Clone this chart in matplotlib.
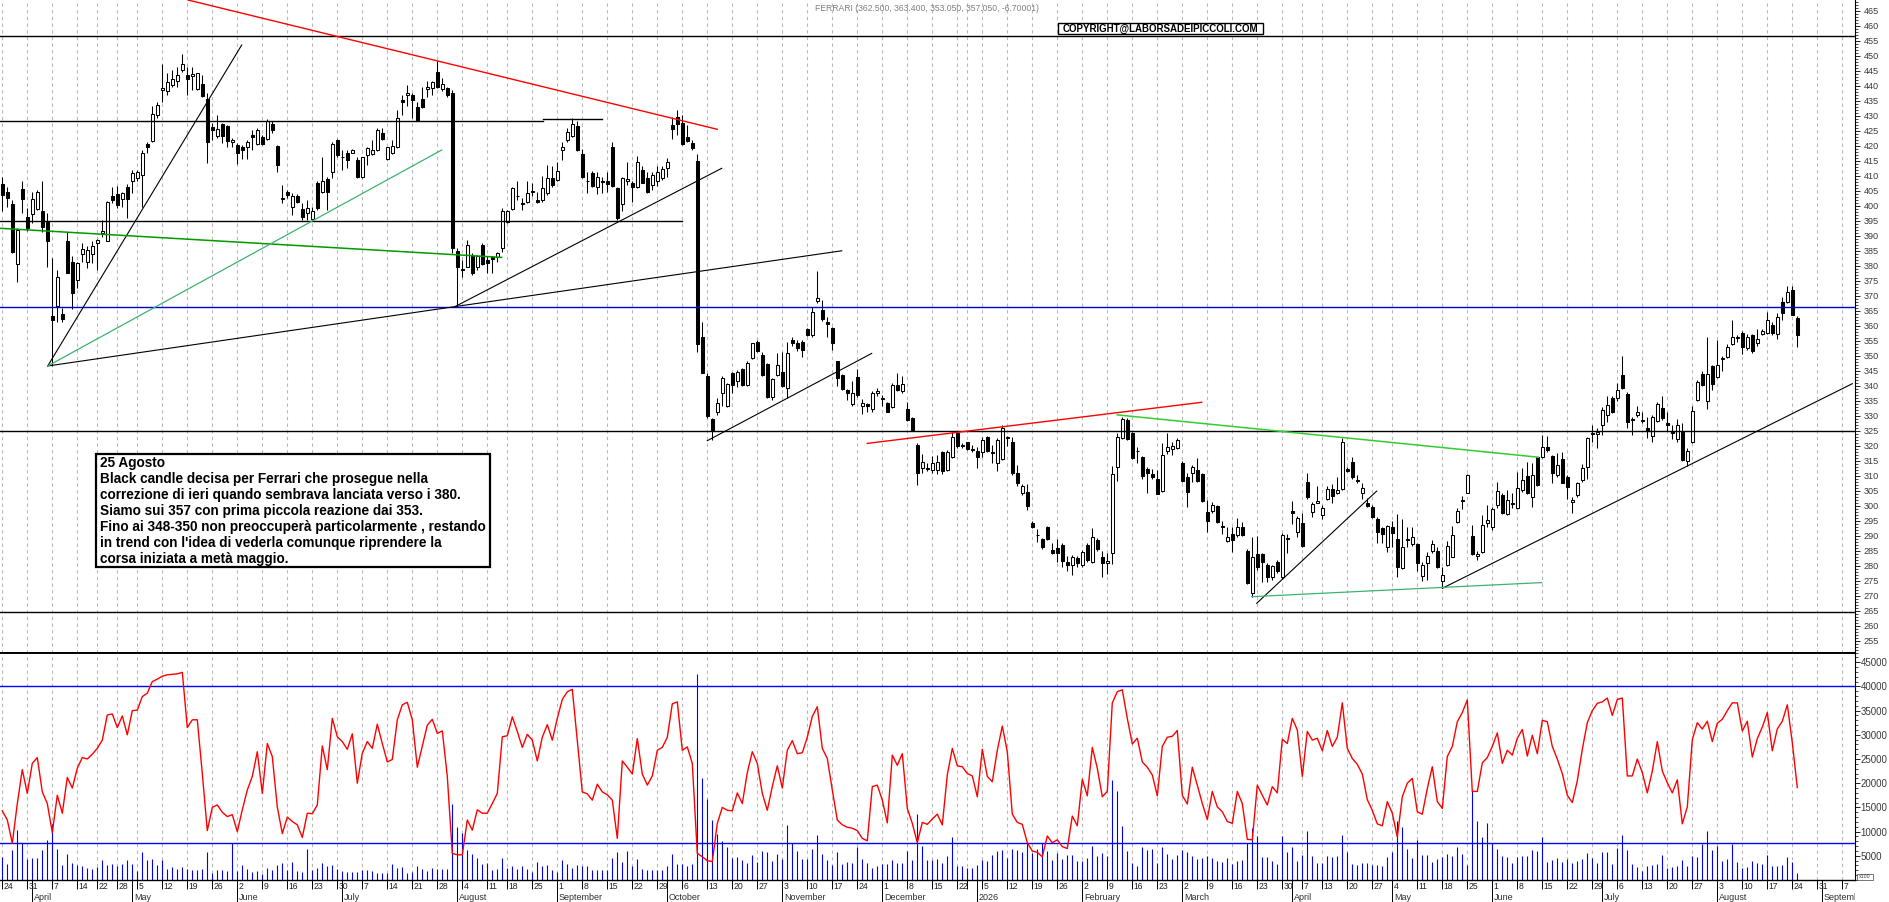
import numpy as np
import pandas as pd
import matplotlib
matplotlib.use("Agg")
import matplotlib.pyplot as plt
from matplotlib.patches import Rectangle
from matplotlib.ticker import MultipleLocator, FixedLocator, FuncFormatter

plt.rcParams['font.family'] = ['Liberation Sans', 'DejaVu Sans']

# ---- daily candles (Borsa Italiana trading days from 24 Mar 2025) ----
opens = [
    407.3, 404.6, 400.6, 380.6, 405.6, 396.2, 397.3, 398.9, 398.2, 394.7,
    363.3, 366.7, 364.0, 388.1, 381.1, 375.3, 383.9, 381.4, 383.9, 387.5,
    390.9, 388.4, 403.3, 404.0, 402.2, 406.4, 408.1, 409.2, 410.3, 420.5,
    421.7, 430.3, 438.6, 438.1, 440.3, 441.6, 445.2, 443.6, 443.3, 438.9,
    440.6, 435.5, 426.1, 423.1, 427.1, 426.6, 421.4, 420.3, 419.7, 419.5,
    423.5, 420.6, 422.9, 422.4, 427.3, 420.0, 402.4, 404.7, 399.7, 403.3,
    398.9, 397.5, 395.6, 407.7, 404.7, 408.9, 411.4, 422.0, 416.4, 417.7,
    417.7, 415.3, 409.7, 417.0, 417.3, 418.6, 424.2, 415.6, 417.7, 419.5,
    435.3, 437.0, 437.0, 432.9, 435.5, 438.9, 439.2, 444.5, 438.9, 439.2,
    437.5, 385.0, 378.9, 379.7, 383.4, 379.7, 387.0, 382.0, 382.8, 382.9,
    385.9, 394.7, 399.0, 403.3, 400.8, 401.1, 404.7, 402.0, 402.0, 404.4,
    409.2, 408.6, 418.6, 422.0, 423.1, 426.6, 417.3, 408.3, 410.9, 406.2,
    408.1, 408.3, 419.5, 405.9, 400.6, 408.1, 407.5, 406.4, 412.0, 409.2,
    407.0, 408.1, 409.2, 412.7, 427.0, 429.5, 427.5, 422.9, 420.9, 415.0,
    356.2, 343.3, 328.9, 331.4, 337.5, 333.1, 344.4, 341.7, 345.5, 340.3,
    349.2, 354.7, 350.3, 347.2, 336.2, 343.6, 344.7, 339.2, 355.1, 354.4,
    354.7, 358.9, 357.0, 368.4, 365.3, 361.4, 359.2, 348.1, 343.6, 338.6,
    334.0, 342.9, 333.3, 333.9, 332.2, 337.5, 335.9, 334.2, 332.9, 340.3,
    338.1, 332.2, 329.2, 320.2, 312.5, 312.6, 311.9, 311.9, 318.0, 311.9,
    316.1, 324.1, 320.0, 321.1, 318.7, 318.4, 318.0, 323.0, 317.7, 314.1,
    315.5, 322.5, 321.3, 310.8, 304.1, 304.7, 294.1, 290.3, 288.8, 293.0,
    285.2, 285.8, 286.9, 281.4, 280.2, 282.5, 280.2, 286.9, 281.3, 288.6,
    283.0, 280.8, 284.4, 312.8, 322.5, 328.6, 324.1, 318.3, 316.3, 312.1,
    310.6, 308.8, 305.0, 318.3, 318.8, 319.1, 314.1, 309.5, 311.0, 311.9,
    310.6, 298.0, 298.3, 299.9, 293.0, 288.4, 290.6, 290.3, 293.0, 285.0,
    270.8, 283.9, 283.9, 280.2, 276.4, 281.4, 276.4, 289.1, 298.3, 291.4,
    294.3, 308.0, 298.0, 301.0, 296.9, 302.1, 305.5, 304.1, 305.5, 312.1,
    314.7, 308.6, 304.4, 301.0, 299.7, 295.5, 292.5, 286.4, 293.0, 288.8,
    279.1, 288.7, 287.2, 287.2, 276.6, 281.0, 285.0, 285.0, 275.0, 280.2,
    283.0, 294.7, 301.9, 304.3, 289.9, 283.2, 284.7, 294.3, 293.0, 300.2,
    303.6, 297.2, 300.9, 299.1, 305.2, 309.9, 302.8, 316.1, 316.1, 319.5,
    316.6, 310.2, 315.5, 309.7, 301.4, 303.6, 308.6, 313.0, 324.1, 323.9,
    326.9, 330.2, 335.9, 335.9, 343.6, 337.2, 328.7, 330.4, 328.4, 326.0,
    323.1, 328.2, 332.7, 327.6, 325.0, 322.2, 325.0, 314.8, 321.2, 335.3,
    344.0, 335.0, 346.5, 343.0, 348.8, 349.6, 353.9, 356.1, 357.7, 352.6,
    356.8, 354.2, 357.1, 357.7, 360.3, 357.1, 368.0, 368.0, 371.9, 362.5,
]
highs = [
    409.7, 406.4, 402.0, 392.5, 408.1, 399.2, 404.7, 405.1, 408.1, 397.7,
    382.5, 378.6, 365.9, 391.1, 383.1, 381.4, 387.5, 386.6, 388.1, 388.9,
    395.3, 401.7, 406.4, 406.6, 404.7, 407.3, 412.0, 412.0, 418.6, 421.4,
    433.1, 434.7, 447.2, 444.2, 445.3, 446.4, 450.5, 446.4, 446.4, 444.4,
    443.6, 437.5, 427.5, 430.3, 427.5, 427.0, 422.5, 420.9, 420.3, 422.0,
    425.3, 425.9, 423.6, 428.9, 428.1, 420.3, 407.0, 405.3, 404.2, 404.0,
    400.9, 402.0, 399.7, 408.1, 416.4, 409.5, 421.4, 422.2, 418.6, 418.6,
    418.9, 416.4, 416.4, 419.7, 422.0, 425.9, 425.9, 419.7, 422.0, 432.0,
    437.0, 440.3, 437.5, 434.7, 439.7, 441.7, 441.7, 448.4, 442.5, 439.7,
    438.6, 385.9, 381.9, 388.6, 384.2, 383.6, 387.5, 383.1, 383.1, 384.7,
    399.2, 398.6, 406.2, 408.1, 402.5, 408.4, 407.5, 404.7, 410.0, 413.6,
    413.3, 414.7, 421.4, 425.9, 429.2, 428.1, 418.9, 411.4, 411.7, 411.4,
    409.5, 411.4, 421.1, 406.4, 409.7, 414.7, 408.1, 416.6, 413.1, 411.1,
    411.4, 413.1, 413.1, 415.9, 429.7, 432.0, 430.3, 427.0, 422.0, 417.3,
    361.4, 344.2, 329.2, 335.9, 343.1, 340.9, 344.7, 345.1, 345.9, 348.1,
    354.4, 355.1, 351.4, 347.5, 342.5, 350.8, 351.1, 354.7, 356.4, 355.1,
    355.3, 359.2, 366.2, 378.1, 368.6, 362.9, 359.7, 348.4, 343.9, 338.9,
    341.7, 345.5, 335.5, 334.4, 338.1, 339.2, 337.0, 334.7, 340.9, 344.4,
    343.1, 334.7, 329.7, 320.8, 317.2, 314.3, 316.6, 316.9, 318.4, 318.6,
    324.7, 324.7, 320.8, 321.3, 320.2, 319.7, 322.8, 323.2, 320.2, 322.5,
    326.9, 323.2, 323.0, 313.6, 307.2, 307.2, 295.0, 292.1, 289.1, 293.2,
    287.5, 288.8, 287.5, 283.2, 283.6, 283.2, 285.2, 287.5, 292.5, 289.1,
    285.0, 284.1, 313.2, 324.3, 329.5, 329.1, 324.7, 319.7, 316.6, 312.8,
    312.1, 311.9, 321.0, 324.1, 321.3, 322.5, 315.0, 310.8, 313.6, 315.8,
    310.8, 301.9, 301.3, 300.2, 295.0, 293.0, 293.0, 295.8, 294.7, 285.5,
    289.7, 289.9, 284.3, 281.0, 280.2, 281.9, 290.8, 290.6, 301.7, 296.6,
    297.7, 310.8, 301.3, 306.6, 300.2, 306.6, 307.2, 309.7, 322.5, 312.8,
    316.4, 310.2, 307.5, 302.5, 300.2, 296.3, 293.0, 293.6, 295.0, 297.2,
    295.5, 292.8, 293.0, 287.5, 281.4, 284.7, 288.6, 286.3, 279.7, 288.3,
    293.2, 299.1, 303.2, 310.6, 293.6, 285.0, 296.9, 300.2, 299.7, 308.0,
    304.1, 305.2, 304.1, 311.4, 312.5, 314.7, 314.3, 316.3, 323.6, 323.2,
    316.9, 317.7, 318.0, 310.2, 302.8, 308.0, 313.9, 322.8, 326.9, 325.8,
    333.0, 336.6, 336.5, 341.0, 350.0, 337.8, 329.5, 333.3, 331.2, 329.5,
    330.1, 334.6, 336.5, 331.4, 326.9, 328.9, 327.6, 319.2, 333.3, 341.9,
    344.9, 356.4, 347.0, 355.1, 350.0, 353.9, 361.9, 356.8, 358.1, 357.1,
    357.3, 359.0, 359.0, 364.5, 361.2, 364.1, 369.5, 373.3, 373.3, 363.4,
]
lows = [
    398.1, 399.7, 384.2, 374.5, 397.7, 391.7, 394.4, 398.6, 391.1, 379.5,
    346.6, 361.1, 361.4, 377.5, 365.5, 372.5, 381.1, 379.1, 380.9, 378.6,
    389.7, 388.1, 400.9, 399.2, 399.7, 395.9, 404.2, 408.1, 399.7, 417.5,
    421.4, 429.2, 434.7, 437.0, 439.7, 439.7, 444.7, 437.0, 438.6, 438.6,
    436.2, 414.2, 422.0, 422.5, 420.9, 419.5, 419.7, 414.0, 415.6, 415.6,
    418.6, 420.3, 420.3, 422.0, 424.2, 411.4, 400.9, 402.5, 397.0, 400.9,
    395.3, 395.3, 395.3, 398.6, 404.2, 398.6, 409.2, 416.4, 412.0, 412.5,
    417.5, 409.2, 409.2, 413.6, 417.0, 418.1, 422.0, 415.3, 417.3, 419.2,
    430.3, 433.1, 429.2, 428.6, 432.5, 436.4, 437.0, 439.4, 438.1, 436.4,
    384.2, 366.4, 376.2, 379.5, 377.0, 378.6, 380.3, 377.5, 377.5, 381.1,
    384.7, 394.4, 398.6, 402.0, 398.6, 400.9, 403.1, 400.9, 401.4, 403.6,
    406.4, 408.1, 415.1, 421.4, 422.9, 418.4, 409.2, 404.2, 406.4, 403.9,
    404.4, 404.7, 406.4, 395.1, 398.1, 407.0, 401.4, 405.9, 407.5, 404.4,
    405.1, 406.6, 408.6, 409.7, 422.2, 423.6, 420.3, 421.4, 418.6, 351.4,
    344.2, 329.2, 322.0, 330.3, 333.1, 332.9, 337.7, 339.5, 340.0, 340.0,
    348.9, 351.4, 343.3, 335.9, 335.3, 343.1, 339.5, 335.9, 353.3, 351.7,
    349.7, 356.6, 356.4, 367.5, 361.7, 356.2, 352.0, 340.0, 338.6, 335.3,
    333.3, 336.4, 330.6, 331.1, 331.4, 336.6, 333.3, 331.1, 332.5, 338.1,
    337.5, 328.4, 325.1, 306.9, 310.8, 311.7, 311.0, 310.6, 310.6, 311.7,
    315.8, 319.1, 319.1, 318.6, 318.0, 312.5, 316.1, 318.0, 314.3, 311.7,
    315.2, 319.9, 310.2, 306.6, 303.6, 298.6, 292.5, 288.0, 285.5, 288.6,
    283.9, 281.4, 279.5, 278.4, 276.9, 279.5, 279.7, 281.3, 280.8, 285.0,
    276.4, 277.2, 280.6, 308.4, 322.1, 321.9, 315.5, 314.3, 308.8, 304.4,
    308.8, 303.9, 304.7, 317.2, 316.9, 318.8, 308.0, 299.7, 308.0, 308.0,
    301.3, 291.4, 297.5, 294.3, 290.6, 288.0, 284.7, 289.7, 289.9, 273.9,
    269.7, 278.6, 274.7, 274.7, 275.2, 277.7, 275.5, 284.1, 293.9, 289.7,
    286.4, 302.1, 296.1, 301.0, 295.5, 301.9, 300.8, 303.9, 305.2, 311.4,
    308.8, 307.5, 302.1, 299.7, 295.8, 287.7, 287.5, 284.7, 286.3, 276.3,
    278.8, 286.3, 286.6, 278.1, 275.0, 275.2, 284.1, 279.1, 272.5, 279.9,
    282.8, 294.1, 298.8, 304.1, 283.6, 281.9, 284.3, 293.0, 291.9, 299.1,
    297.2, 296.9, 299.1, 298.8, 304.7, 303.9, 299.7, 306.6, 315.8, 318.0,
    307.5, 309.7, 307.5, 302.1, 297.7, 303.0, 308.0, 308.8, 321.4, 319.1,
    323.6, 328.0, 330.8, 335.0, 338.9, 326.0, 323.7, 329.5, 327.6, 322.7,
    321.2, 327.8, 328.6, 325.0, 322.2, 321.4, 315.0, 313.2, 320.9, 335.0,
    339.8, 332.1, 338.5, 342.7, 344.9, 349.4, 353.5, 354.5, 350.6, 351.9,
    350.9, 353.2, 356.8, 357.3, 356.8, 355.5, 361.9, 367.7, 363.6, 353.05,
]
closes = [
    403.6, 402.7, 384.7, 392.0, 402.2, 392.7, 402.2, 404.7, 392.8, 388.1,
    362.0, 376.2, 362.4, 377.7, 370.9, 380.9, 385.5, 385.1, 386.6, 388.5,
    391.7, 401.2, 402.0, 400.3, 404.4, 402.2, 410.9, 411.1, 417.5, 419.5,
    430.6, 433.5, 439.1, 441.4, 442.4, 443.6, 447.2, 442.3, 444.0, 444.2,
    436.7, 421.1, 425.3, 425.5, 423.1, 421.7, 422.0, 417.7, 418.6, 421.4,
    423.0, 425.3, 420.6, 428.1, 425.1, 413.6, 402.2, 403.6, 403.1, 401.4,
    396.2, 399.2, 398.1, 399.2, 408.1, 404.7, 420.5, 417.0, 416.1, 415.1,
    418.6, 409.5, 416.2, 419.4, 418.6, 425.3, 422.2, 419.7, 420.0, 429.1,
    434.7, 437.5, 435.1, 428.6, 432.9, 439.7, 441.4, 439.7, 440.5, 437.0,
    385.9, 379.7, 378.7, 387.0, 377.5, 383.1, 380.6, 380.9, 382.2, 384.2,
    398.1, 398.3, 405.9, 403.1, 400.6, 404.4, 404.5, 401.1, 405.9, 409.2,
    407.0, 411.7, 419.7, 424.7, 427.3, 418.6, 409.5, 408.1, 406.6, 409.5,
    407.9, 407.3, 406.7, 395.9, 409.4, 408.9, 406.4, 414.7, 407.7, 404.7,
    410.3, 411.4, 412.2, 414.7, 425.5, 427.3, 420.6, 421.7, 419.2, 354.0,
    344.4, 330.0, 325.3, 334.4, 342.5, 340.6, 340.3, 344.7, 340.3, 347.7,
    354.2, 351.7, 343.6, 336.2, 342.2, 346.9, 340.0, 350.9, 354.2, 352.5,
    352.0, 357.0, 364.5, 369.2, 362.2, 360.6, 354.4, 342.5, 338.9, 337.7,
    337.7, 337.0, 334.2, 333.1, 337.7, 338.1, 335.7, 331.4, 340.3, 338.6,
    340.6, 328.6, 325.3, 310.8, 314.7, 312.4, 314.3, 314.7, 311.7, 318.0,
    323.0, 319.9, 319.8, 318.9, 318.5, 316.4, 321.9, 318.4, 318.0, 321.9,
    325.8, 323.0, 311.0, 307.7, 306.6, 299.9, 292.8, 290.1, 286.4, 288.8,
    284.1, 284.3, 281.7, 280.2, 283.0, 280.8, 284.7, 281.9, 289.5, 285.5,
    281.0, 281.6, 310.5, 323.0, 328.8, 322.1, 315.8, 318.1, 309.9, 311.0,
    309.5, 303.9, 316.9, 319.7, 319.9, 321.9, 308.3, 304.7, 313.0, 308.3,
    301.7, 295.0, 300.2, 294.7, 292.8, 289.7, 288.6, 293.0, 290.3, 274.4,
    283.0, 279.7, 281.4, 276.4, 279.9, 278.4, 290.2, 288.9, 297.7, 295.8,
    286.6, 302.8, 300.6, 301.7, 299.1, 305.5, 303.3, 305.2, 321.2, 311.7,
    309.5, 308.4, 305.8, 299.9, 296.1, 291.4, 290.6, 293.2, 291.0, 279.5,
    286.1, 288.5, 289.7, 281.0, 280.2, 283.2, 287.2, 279.5, 276.9, 286.6,
    290.2, 298.3, 301.7, 310.2, 283.9, 283.9, 293.6, 295.2, 298.8, 305.0,
    297.5, 301.9, 300.7, 305.8, 308.6, 304.1, 310.2, 306.9, 319.5, 318.6,
    310.8, 313.6, 307.7, 306.1, 301.9, 307.7, 312.5, 322.5, 323.9, 324.7,
    331.9, 333.6, 331.2, 338.7, 339.4, 327.8, 328.5, 331.2, 328.2, 324.8,
    329.5, 334.0, 329.1, 326.9, 324.4, 326.9, 315.4, 318.3, 331.7, 341.4,
    340.1, 344.0, 340.6, 346.8, 349.0, 353.0, 356.2, 355.9, 353.0, 356.2,
    351.7, 355.5, 358.3, 361.9, 357.7, 362.8, 364.3, 371.4, 363.75, 357.05,
]

# ---- lower panel: red indicator line and volume bars (thousands, axis is x100) ----
red_line = [
    14.3, 12.4, 7.6, 15.8, 22.8, 17.9, 24.1, 25.3, 18.2, 15.8,
    9.8, 17.5, 13.8, 21.2, 19.0, 23.1, 25.3, 25.0, 26.0, 27.2,
    28.9, 34.1, 34.3, 31.5, 33.9, 30.0, 35.0, 35.1, 37.9, 38.6,
    41.0, 41.5, 42.1, 42.4, 42.5, 42.6, 42.9, 31.5, 33.1, 33.1,
    22.0, 10.2, 15.0, 15.5, 14.0, 13.1, 13.5, 10.0, 14.5, 18.6,
    21.4, 26.5, 17.9, 28.2, 25.5, 15.1, 9.6, 13.0, 12.1, 11.4,
    8.8, 13.8, 13.7, 15.5, 27.7, 22.8, 33.4, 29.6, 28.6, 27.0,
    30.2, 20.0, 26.2, 28.6, 27.2, 32.2, 28.2, 24.4, 24.9, 33.1,
    36.2, 36.7, 33.1, 23.3, 27.7, 32.0, 33.2, 30.3, 30.8, 21.4,
    5.5, 5.2, 5.2, 12.4, 10.3, 14.5, 13.8, 13.8, 15.8, 17.9,
    29.6, 29.8, 33.7, 30.7, 27.4, 30.1, 28.9, 24.6, 29.5, 32.1,
    28.9, 33.4, 37.3, 38.9, 39.4, 28.9, 18.2, 17.8, 16.5, 19.8,
    18.2, 17.6, 16.5, 8.6, 24.6, 23.3, 21.9, 29.2, 21.9, 19.6,
    21.5, 26.8, 27.4, 29.5, 36.4, 36.8, 26.8, 27.5, 24.1, 5.5,
    4.8, 4.0, 3.8, 11.7, 15.0, 14.4, 14.3, 18.0, 15.8, 22.2,
    26.5, 24.1, 17.9, 14.4, 19.3, 23.6, 19.0, 26.8, 28.8, 26.1,
    26.3, 29.5, 33.8, 35.8, 27.2, 25.1, 18.6, 12.4, 11.4, 10.9,
    10.7, 10.2, 8.6, 8.1, 19.3, 19.6, 16.5, 11.8, 25.8, 23.7,
    26.1, 14.8, 11.7, 7.7, 11.9, 11.5, 12.6, 13.6, 11.4, 21.7,
    27.2, 23.6, 23.4, 22.0, 21.5, 17.2, 27.0, 21.4, 20.3, 26.8,
    31.8, 26.5, 13.6, 11.9, 11.5, 7.7, 6.0, 5.7, 4.8, 9.1,
    7.7, 8.3, 6.9, 6.5, 13.2, 11.2, 20.8, 17.4, 27.4, 23.1,
    17.2, 18.3, 36.6, 38.9, 39.3, 33.4, 28.1, 29.3, 24.4, 23.3,
    21.7, 17.4, 27.6, 29.5, 29.7, 30.9, 17.5, 15.7, 23.3, 19.6,
    15.8, 12.5, 18.3, 15.1, 14.1, 12.1, 11.7, 18.3, 15.8, 8.4,
    8.3, 19.6, 17.5, 15.5, 19.3, 18.0, 29.1, 28.2, 33.4, 31.0,
    21.4, 30.7, 28.9, 29.3, 26.7, 30.9, 27.6, 29.5, 36.6, 27.2,
    25.1, 23.9, 21.9, 16.6, 14.4, 11.6, 11.2, 16.2, 13.8, 8.9,
    17.2, 20.0, 21.0, 14.1, 13.6, 18.9, 23.4, 16.2, 14.8, 25.5,
    27.6, 32.7, 34.6, 37.2, 18.3, 18.3, 24.2, 25.3, 27.6, 30.4,
    24.1, 26.8, 25.8, 29.3, 31.1, 25.6, 29.9, 26.1, 33.0, 32.7,
    27.6, 25.0, 22.0, 17.5, 16.0, 20.5, 27.0, 32.5, 35.0, 36.5,
    36.8, 37.6, 34.0, 37.3, 37.6, 21.5, 21.5, 25.0, 22.2, 18.0,
    22.5, 28.6, 22.5, 20.1, 18.0, 20.7, 11.6, 15.1, 29.0, 32.5,
    31.2, 32.8, 28.6, 32.4, 33.2, 35.0, 36.6, 36.6, 30.8, 32.8,
    25.4, 29.2, 31.6, 34.6, 26.7, 31.2, 32.8, 36.2, 28.4, 19.1,
]
volume = [
    4.8, 3.3, 6.2, 10.3, 7.6, 4.3, 4.5, 4.5, 6.2, 8.3,
    11.5, 6.5, 3.0, 5.4, 3.6, 3.0, 2.9, 2.4, 2.2, 2.6,
    4.1, 3.1, 3.3, 2.9, 3.3, 4.1, 3.3, 1.9, 5.8, 4.1,
    4.3, 3.0, 4.1, 2.2, 2.6, 2.2, 2.6, 2.2, 2.1, 2.1,
    2.2, 5.8, 1.4, 2.1, 2.1, 1.9, 7.6, 1.9, 3.0, 2.2,
    1.7, 1.9, 1.2, 2.4, 2.1, 3.1, 3.6, 2.1, 3.7, 1.9,
    1.7, 6.5, 2.1, 2.4, 3.6, 2.8, 3.1, 2.2, 1.9, 1.7,
    1.7, 1.7, 2.1, 2.1, 1.9, 1.5, 1.4, 1.4, 3.3, 2.5,
    2.6, 1.5, 1.7, 2.9, 2.3, 1.9, 2.5, 2.2, 2.3, 2.2,
    15.6, 10.9, 9.8, 6.3, 5.4, 4.5, 3.3, 3.6, 2.1, 2.2,
    4.5, 2.4, 2.9, 2.2, 2.9, 2.2, 1.7, 3.7, 2.8, 3.1,
    2.0, 1.7, 4.2, 3.3, 2.4, 3.1, 2.8, 2.8, 2.0, 2.0,
    2.0, 2.1, 4.5, 5.7, 3.7, 6.0, 2.9, 4.3, 2.2, 2.1,
    2.1, 2.1, 2.1, 2.9, 5.4, 3.3, 3.3, 2.9, 3.3, 42.6,
    21.1, 16.7, 12.4, 9.5, 8.0, 6.8, 4.5, 4.7, 4.2, 3.6,
    5.2, 3.7, 6.0, 5.7, 3.9, 5.4, 4.3, 11.4, 7.6, 6.0,
    4.3, 4.3, 6.5, 9.3, 5.4, 4.2, 3.1, 5.7, 3.3, 3.7,
    3.6, 6.9, 4.3, 3.5, 2.4, 2.9, 3.3, 3.3, 4.2, 3.6,
    3.6, 6.0, 4.2, 13.6, 7.0, 4.2, 4.2, 4.3, 3.6, 5.0,
    8.8, 2.9, 2.9, 2.4, 2.4, 3.1, 4.2, 3.9, 5.2, 6.0,
    6.2, 4.6, 6.5, 6.2, 5.7, 7.6, 5.6, 6.5, 7.6, 6.0,
    4.2, 5.6, 4.3, 5.2, 5.2, 3.9, 3.9, 4.5, 7.0, 5.0,
    5.6, 5.0, 20.7, 18.3, 11.2, 6.0, 3.6, 2.9, 6.8, 6.2,
    6.4, 3.6, 6.8, 5.4, 4.3, 5.2, 6.2, 5.8, 5.0, 4.3,
    4.5, 5.0, 4.5, 3.9, 3.7, 4.5, 3.3, 3.9, 4.2, 7.7,
    10.7, 9.0, 4.7, 4.7, 3.9, 3.3, 9.0, 5.8, 6.9, 3.9,
    5.2, 10.1, 5.0, 3.6, 3.6, 5.0, 4.8, 5.0, 9.3, 5.8,
    3.3, 3.1, 3.6, 3.6, 3.1, 3.1, 2.8, 4.7, 5.8, 12.2,
    11.0, 6.5, 4.5, 8.3, 5.2, 5.2, 3.8, 4.3, 4.7, 5.4,
    5.0, 6.9, 5.4, 3.1, 18.3, 12.2, 8.8, 11.7, 7.7, 6.5,
    5.0, 4.7, 3.6, 4.7, 5.0, 5.0, 6.2, 6.0, 8.8, 3.7,
    4.2, 4.6, 3.8, 4.4, 3.5, 4.0, 4.3, 5.6, 4.5, 3.6,
    5.8, 5.8, 3.4, 6.6, 9.3, 6.2, 3.4, 2.6, 1.8, 2.9,
    3.0, 3.4, 5.2, 2.4, 2.6, 2.9, 4.2, 2.9, 5.0, 4.7,
    7.4, 10.2, 6.1, 7.0, 4.0, 4.4, 7.4, 3.8, 2.4, 2.6,
    4.0, 3.6, 3.4, 5.2, 2.9, 2.9, 3.0, 4.7, 3.8, 1.4,
]

# horizontal levels and trendlines drawn on the price panel (day index, price)
flat_levels = [456.6, 325.0, 264.5]
blue_level = 366.2
short_levels = [(-0.5, 108.1, 428.4), (108.1, 119.9, 428.9), (-0.5, 135.9, 394.9)]
black_trends = [
    (9.08, 346.6, 47.88, 453.6),
    (9.08, 346.6, 90.54, 366.4),
    (90.54, 366.4, 167.88, 385.0),
    (90.54, 366.4, 143.88, 412.5),
    (141.0, 321.7, 173.88, 350.8),
    (250.88, 267.5, 274.88, 304.9),
    (288.0, 272.5, 370.0, 340.7),
]
red_trends = [(37.14, 468.6, 143.0, 425.5), (173.0, 320.8, 239.88, 334.5)]
dark_green_trends = [(-0.46, 392.5, 99.88, 382.8)]
sea_green_trends = [(9.08, 346.6, 87.88, 418.6), (249.88, 269.7, 307.88, 274.4)]
lime_trends = [(223.0, 330.3, 307.2, 316.2)]

vol_levels = [40000, 7650]

holidays = pd.to_datetime(['2025-04-18', '2025-04-21', '2025-05-01', '2025-08-15',
                           '2025-12-24', '2025-12-25', '2025-12-26', '2025-12-31',
                           '2026-01-01', '2026-04-03', '2026-04-06', '2026-05-01'])
month_names = {1: '2026', 2: 'February', 3: 'March', 4: 'April', 5: 'May', 6: 'June',
               7: 'July', 8: 'August', 9: 'September', 10: 'October',
               11: 'November', 12: 'December'}

note_lines = [
    "25 Agosto",
    "Black candle decisa per Ferrari che prosegue nella",
    "correzione di ieri quando sembrava lanciata verso i 380.",
    "Siamo sui 357 con prima piccola reazione dai 353.",
    "Fino ai 348-350 non preoccuperà particolarmente , restando",
    "in trend con l'idea di vederla comunque riprendere la",
    "corsa iniziata a metà maggio.",
]

# ---- figure ----
W, H = 1890, 902
fig = plt.figure(figsize=(W / 100, H / 100), dpi=100)
fig.patch.set_facecolor('white')


def fx(px):
    return px / W


def fy(py):
    return 1 - py / H


X0, X1 = -0.46, 370.54
ax = fig.add_axes([0, fy(653.3), fx(1855), 653.3 / H])
axv = fig.add_axes([0, fy(880), fx(1855), (880 - 653.3) / H])
axd = fig.add_axes([0, 0, fx(1855), (902 - 880) / H])

all_days = pd.bdate_range('2025-03-24', '2026-09-30')
days = all_days[~all_days.isin(holidays)][:371]
weeks = days.isocalendar().week.values
week_start = [0] + [i for i in range(1, len(days)) if weeks[i] != weeks[i - 1]]
month_start = [i for i in range(1, len(days)) if days[i].month != days[i - 1].month]

grid_kw = dict(color='#b8b8b8', lw=0.8, ls=(0, (3, 3)), zorder=0)
for a in (ax, axv):
    a.set_xlim(X0, X1)
    for i in week_start:
        a.axvline(i, **grid_kw)
    a.set_xticks([])
    a.spines['left'].set_visible(False)

# candles
o = np.array(opens)
c = np.array(closes)
hi = np.array(highs)
lo = np.array(lows)
n = min(len(o), len(c), len(hi), len(lo))
o, c, hi, lo = o[:n], c[:n], hi[:n], lo[:n]
idx = np.arange(n)
up = c >= o
ax.vlines(idx, lo, hi, color='black', lw=0.75, zorder=3)
body_lo = np.minimum(o, c)
body_h = np.maximum(np.abs(c - o), 0.3)
ax.bar(idx[up], body_h[up], bottom=body_lo[up], width=0.64, color='white',
       edgecolor='black', lw=0.75, zorder=4)
ax.bar(idx[~up], body_h[~up], bottom=body_lo[~up], width=0.64, color='black',
       edgecolor='black', lw=0.75, zorder=4)

# levels and trendlines
for lv in flat_levels:
    ax.axhline(lv, color='black', lw=1.0, zorder=5)
ax.axhline(blue_level, color='#0000cc', lw=1.0, zorder=5)
for a0, a1, lv in short_levels:
    ax.plot([a0, a1], [lv, lv], color='black', lw=1.0, zorder=5)
for x0, y0, x1, y1 in black_trends:
    ax.plot([x0, x1], [y0, y1], color='black', lw=0.8, zorder=5)
for x0, y0, x1, y1 in red_trends:
    ax.plot([x0, x1], [y0, y1], color='#ff0000', lw=1.0, zorder=5)
for x0, y0, x1, y1 in dark_green_trends:
    ax.plot([x0, x1], [y0, y1], color='#009a00', lw=1.1, zorder=5)
for x0, y0, x1, y1 in sea_green_trends:
    ax.plot([x0, x1], [y0, y1], color='#3cb371', lw=0.9, zorder=5)
for x0, y0, x1, y1 in lime_trends:
    ax.plot([x0, x1], [y0, y1], color='#33cc33', lw=1.1, zorder=5)

ax.set_ylim(250.83, 468.6)
ax.spines['top'].set_visible(False)
ax.spines['bottom'].set_linewidth(1.4)
ax.spines['right'].set_linewidth(0.8)
ax.yaxis.tick_right()
ax.yaxis.set_major_locator(MultipleLocator(5))
ax.yaxis.set_minor_locator(MultipleLocator(1))
ax.yaxis.set_major_formatter(FuncFormatter(lambda v, p: f'{v:.0f}'))
ax.tick_params(axis='y', which='major', length=3.5, width=0.6, pad=2.5,
               labelsize=6.6, labelcolor='#3a3a3a')
ax.tick_params(axis='y', which='minor', length=1.8, width=0.5)

# lower panel
vol = np.array(volume[:n]) * 1000
red = np.array(red_line[:n]) * 1000
axv.vlines(np.arange(len(vol)), 0, vol, color='#0000ff', lw=0.8, zorder=2)
for lv in vol_levels:
    axv.axhline(lv, color='#0000ff', lw=1.0, zorder=3)
axv.plot(np.arange(len(red)), red, color='#ff0000', lw=1.0, zorder=4)
axv.set_ylim(0, 46840)
axv.spines['top'].set_linewidth(1.4)
axv.spines['bottom'].set_linewidth(1.0)
axv.spines['right'].set_linewidth(0.8)
axv.yaxis.tick_right()
axv.yaxis.set_major_locator(FixedLocator(list(range(5000, 45001, 5000))))
axv.yaxis.set_minor_locator(MultipleLocator(1000))
axv.tick_params(axis='y', which='major', length=3.5, width=0.6, pad=0.5,
                labelsize=7, labelcolor='#3a3a3a')
axv.tick_params(axis='y', which='minor', length=1.8, width=0.5)

# date strip
axd.set_xlim(X0, X1)
axd.set_ylim(902, 880)
axd.axis('off')
skip = pd.Timestamp('2025-12-29')
for i in week_start:
    axd.vlines(i, 880, 889, color='black', lw=0.7)
    if days[i] == skip:
        continue
    axd.text(i + 0.3, 886.3, str(days[i].day), ha='left', va='center',
             fontsize=6.2, color='#202020', clip_on=True)
for i in month_start:
    axd.vlines(i, 880, 902, color='black', lw=0.7)
    axd.text(i + 0.3, 897.0, month_names[days[i].month], ha='left', va='center',
             fontsize=6.5, color='#303030', clip_on=True)

# header texts
fig.text(fx(927), fy(8.5), 'FERRARI (362.500, 363.400, 353.050, 357.050, -6.70001)',
         ha='center', va='center', fontsize=6.2, color='#808080')
fig.patches.append(Rectangle((fx(1058), fy(34.3)), fx(1263) - fx(1058), 11.6 / H,
                             transform=fig.transFigure, facecolor='white',
                             edgecolor='black', lw=1.0, zorder=6))
fig.text(fx(1160.5), fy(28.6), 'COPYRIGHT@LABORSADEIPICCOLI.COM', ha='center',
         va='center', fontsize=7, fontweight='bold', color='black', zorder=7)

# comment box
fig.patches.append(Rectangle((fx(96.4), fy(567)), fx(490) - fx(96.4), 113 / H,
                             transform=fig.transFigure, facecolor='white',
                             edgecolor='black', lw=1.6, zorder=6))
for k, line in enumerate(note_lines):
    fig.text(fx(99.5), fy(466.7 + 16 * k), line, ha='left', va='baseline',
             fontsize=9.8, fontweight='bold', color='black', zorder=7)

# x100 marker
fig.patches.append(Rectangle((fx(1857), fy(880)), fx(16), 6.5 / H,
                             transform=fig.transFigure, facecolor='white',
                             edgecolor='#404040', lw=0.5, zorder=6))
fig.text(fx(1865), fy(876.8), 'x100', ha='center', va='center', fontsize=3.8,
         color='#404040', zorder=7)

fig.savefig('out.png', dpi=100, facecolor='white')
